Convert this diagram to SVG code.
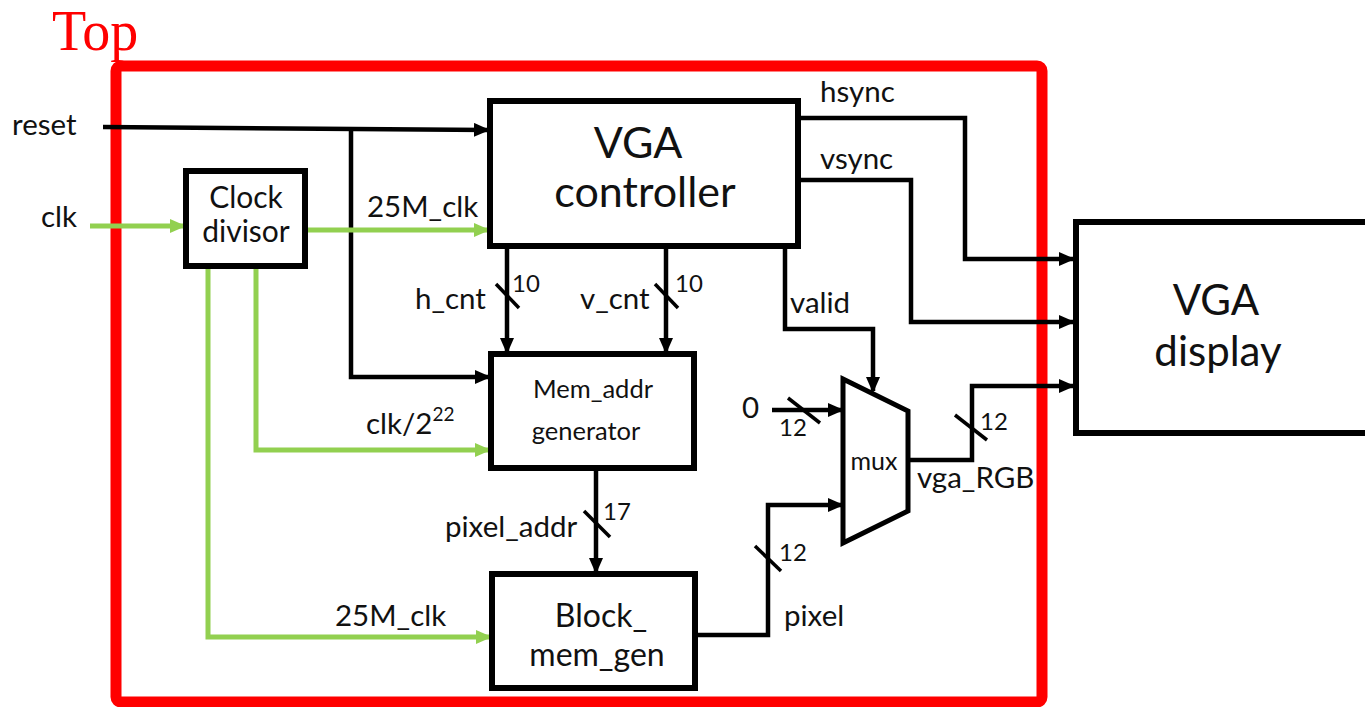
<svg xmlns="http://www.w3.org/2000/svg" width="1365" height="707" viewBox="0 0 1365 707">
<defs>
<style>
.box{fill:#fff;stroke:#000;stroke-width:6}
.w{fill:none;stroke:#000;stroke-width:4.5}
.g{fill:none;stroke:#92d050;stroke-width:5}
.sl{stroke:#000;stroke-width:3.5}
text{font-family:Lato,"Open Sans",sans-serif;fill:#111}
.lb{font-size:29.5px}
.n{font-size:24px}
</style>
<marker id="ab" markerWidth="16" markerHeight="14" refX="14" refY="7" orient="auto" markerUnits="userSpaceOnUse" viewBox="0 0 16 14">
<path d="M0,0 L16,7 L0,14 z" fill="#000"/>
</marker>
<marker id="ag" markerWidth="16" markerHeight="14" refX="14" refY="7" orient="auto" markerUnits="userSpaceOnUse" viewBox="0 0 16 14">
<path d="M0,0 L16,7 L0,14 z" fill="#92d050"/>
</marker>
</defs>
<rect width="1365" height="707" fill="#fff"/>
<text x="52" y="50" style="font-family:'Liberation Serif',serif;font-size:56px;fill:#ff0000">Top</text>
<rect x="116" y="66" width="926" height="636" rx="5" fill="none" stroke="#ff0000" stroke-width="11"/>

<g id="connectors">
<path class="w" d="M103,127 L488,130" marker-end="url(#ab)"/>
<path class="w" d="M351,128 L351,377 L489,377" marker-end="url(#ab)"/>
<path class="g" d="M90,226 L184,226" marker-end="url(#ag)"/>
<path class="g" d="M308,230 L488,230" marker-end="url(#ag)"/>
<path class="g" d="M208,268 L208,637 L490,637" marker-end="url(#ag)"/>
<path class="g" d="M256,268 L256,450 L489,450" marker-end="url(#ag)"/>
<path class="w" d="M507,248 L507,352" marker-end="url(#ab)"/>
<path class="w" d="M666,248 L666,352" marker-end="url(#ab)"/>
<path class="w" d="M785,248 L785,329 L873,329 L873,391" marker-end="url(#ab)"/>
<path class="w" d="M800,118 L965,118 L965,259 L1073,259" marker-end="url(#ab)"/>
<path class="w" d="M800,180 L911,180 L911,322 L1073,322" marker-end="url(#ab)"/>
<path class="w" d="M908,460 L972,460 L972,386 L1073,386" marker-end="url(#ab)"/>
<path class="w" d="M772,410 L842,410" marker-end="url(#ab)"/>
<path class="w" d="M697,635 L768,635 L768,505 L842,505" marker-end="url(#ab)"/>
<path class="w" d="M596,470 L596,572" marker-end="url(#ab)"/>
<line class="sl" x1="496" y1="284" x2="519" y2="308"/>
<line class="sl" x1="655" y1="284" x2="678" y2="308"/>
<line class="sl" x1="788" y1="398" x2="820" y2="423"/>
<line class="sl" x1="955" y1="415" x2="987" y2="440"/>
<line class="sl" x1="755" y1="546" x2="781" y2="571"/>
<line class="sl" x1="584" y1="511" x2="610" y2="537"/>
</g>

<g id="labels">
<text class="lb" x="12" y="135">reset</text>
<text class="lb" x="41" y="227">clk</text>
<text class="lb" x="367" y="217">25M_clk</text>
<text class="lb" x="335" y="626">25M_clk</text>
<text class="lb" x="366" y="434">clk/2<tspan font-size="19" dy="-13">22</tspan></text>
<text class="lb" x="415" y="309">h_cnt</text>
<text class="n" x="512" y="292">10</text>
<text class="lb" x="580" y="309">v_cnt</text>
<text class="n" x="675" y="292">10</text>
<text class="lb" x="790" y="313">valid</text>
<text class="lb" x="820" y="102">hsync</text>
<text class="lb" x="820" y="169">vsync</text>
<text class="lb" x="742" y="418">0</text>
<text class="n" x="779" y="436">12</text>
<text class="n" x="980" y="430">12</text>
<text class="lb" x="917" y="488">vga_RGB</text>
<text class="n" x="779" y="561">12</text>
<text class="lb" x="784" y="626">pixel</text>
<text class="n" x="603" y="520">17</text>
<text class="lb" x="445" y="537">pixel_addr</text>
</g>

<g id="vga_controller">
<rect class="box" x="490" y="101" width="308" height="145"/>
<text x="638" y="158" text-anchor="middle" font-size="43">VGA</text>
<text x="645" y="207" text-anchor="middle" font-size="43">controller</text>
</g>
<g id="clock_divisor">
<rect class="box" x="186" y="171" width="119" height="95"/>
<text x="246" y="208" text-anchor="middle" font-size="30">Clock</text>
<text x="246" y="242" text-anchor="middle" font-size="30">divisor</text>
</g>
<g id="mem_addr_generator">
<rect class="box" x="491" y="354" width="203" height="114"/>
<text x="593" y="398" text-anchor="middle" font-size="25.5">Mem_addr</text>
<text x="586" y="440" text-anchor="middle" font-size="25.5">generator</text>
</g>
<g id="block_mem_gen">
<rect class="box" x="492" y="574" width="203" height="114"/>
<text x="601" y="627" text-anchor="middle" font-size="32">Block_</text>
<text x="597" y="666" text-anchor="middle" font-size="32">mem_gen</text>
</g>
<g id="mux">
<path d="M843,379 L908,411 L908,511 L843,543 z" fill="#fff" stroke="#000" stroke-width="5" stroke-linejoin="miter"/>
<text x="874" y="470" text-anchor="middle" font-size="25">mux</text>
</g>
<g id="vga_display">
<rect class="box" x="1076" y="222" width="300" height="211"/>
<text x="1216" y="315" text-anchor="middle" font-size="42">VGA</text>
<text x="1218" y="366" text-anchor="middle" font-size="42">display</text>
</g>
</svg>
